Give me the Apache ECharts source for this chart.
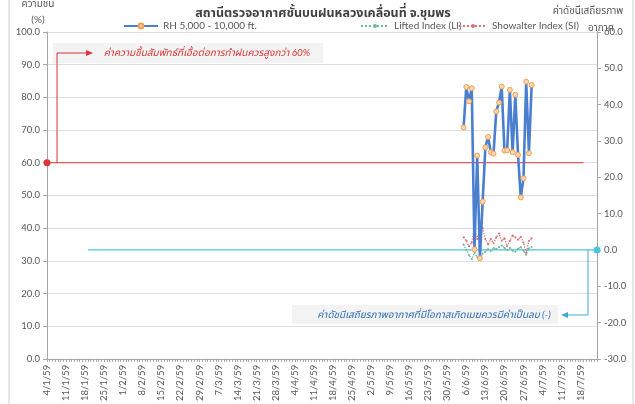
<!DOCTYPE html>
<html>
<head>
<meta charset="utf-8">
<script src="https://cdn.jsdelivr.net/npm/echarts@6/dist/echarts.min.js"></script>
<style>
html,body{margin:0;padding:0;background:#fff;}
#chart{width:635px;height:404px;}
</style>
</head>
<body>
<div id="chart"></div>
<script>
// ---- data ----
const axisStart = '2016-01-04';   // 4/1/59 (B.E. 2559)
const axisDays = 203;             // through 24/7/59
const titleText = 'สถานีตรวจอากาศชั้นบนฝนหลวงเคลื่อนที่ จ.ชุมพร';
const seriesNames = ['RH 5,000 - 10,000 ft.', 'Lifted Index (LI)', 'Showalter Index (SI)'];
const obsStart = '5/6/59';
const rhValues = [70.8, 83.2, 78.8, 82.8, 33.5, 62.2, 30.8, 48.1, 64.7, 67.9, 63.2, 62.8, 75.7,
                  78.4, 83.3, 63.7, 63.8, 82.3, 63.2, 80.8, 62.4, 49.4, 55.2, 84.8, 62.9, 83.8];
const liValues = [1.5, 0.0, -1.5, -2.5, -0.8, -2.0, -2.8, -1.0, -0.5, 0.2, -0.3, 0.5, 0.2,
                  0.8, 1.2, 0.5, 0.0, 0.6, -0.2, -0.5, 0.3, 0.8, -0.2, -1.3, 0.4, 0.8];
const siValues = [3.5, 2.5, 1.0, 2.0, 6.5, 3.0, 5.5, 6.0, 3.0, 1.5, 3.0, 1.8, 3.5,
                  4.5, 2.5, 3.2, 1.0, 2.5, 4.0, 3.5, 2.8, 3.6, 2.0, -0.8, 2.5, 3.2];
const rhThreshold = 60;
const rhThresholdRange = ['4/1/59', '19/7/59'];
const liThreshold = 0;
const liThresholdRange = ['19/1/59', '24/7/59'];
const rhNote = 'ค่าความชื้นสัมพัทธ์ที่เอื้อต่อการทำฝนควรสูงกว่า 60%';
const liNote = 'ค่าดัชนีเสถียรภาพอากาศที่มีโอกาสเกิดเมฆควรมีค่าเป็นลบ (-)';
const leftName = ['ความชื้น', '(%)'];
const rightName = ['ค่าดัชนีเสถียรภาพ', 'อากาศ'];

// ---- categories (daily) ----
const categories = [];
{
  const d0 = new Date(axisStart + 'T00:00:00Z');
  for (let i = 0; i < axisDays; i++) {
    const d = new Date(d0.getTime() + i * 86400000);
    categories.push(d.getUTCDate() + '/' + (d.getUTCMonth() + 1) + '/' + String(d.getUTCFullYear() + 543).slice(2));
  }
}
const i0 = categories.indexOf(obsStart);
const pairs = vals => vals.map((v, i) => [categories[i0 + i], v]);

const FONT = 'Lato, "Noto Sans Thai", "Noto Sans", "DejaVu Sans", sans-serif';
const GREY = '#595959';
const RED = '#dd3535';
const CYAN = '#4cc3d9';
const BLUE_TXT = '#2f6eb5';

const chart = echarts.init(document.getElementById('chart'));
const legendText = { fontSize: 10, color: GREY, fontFamily: FONT };
const option = {
  animation: false,
  textStyle: { fontFamily: FONT },
  title: {
    text: titleText, left: 318, textAlign: 'center', top: 1,
    textStyle: { fontSize: 12.5, fontWeight: 'bold', color: '#404040', fontFamily: FONT }
  },
  legend: [
    { data: [seriesNames[0]], left: 123, top: 21, padding: 0, itemWidth: 34, itemHeight: 6,
      textStyle: legendText },
    { data: [seriesNames[1]], left: 360, top: 21, padding: 0, itemWidth: 28, itemHeight: 5,
      textStyle: legendText },
    { data: [seriesNames[2]], left: 458, top: 21, padding: 0, itemWidth: 28, itemHeight: 5,
      textStyle: legendText }
  ],
  grid: { left: 47, right: 38, top: 32, bottom: 44, containLabel: false },
  xAxis: {
    type: 'category', data: categories, boundaryGap: false,
    axisLine: { lineStyle: { color: '#a6a6a6' } },
    axisTick: { show: true, interval: 0, length: 3, lineStyle: { color: '#a6a6a6' } },
    axisLabel: { interval: 6, rotate: 90, fontSize: 9.5, color: GREY, margin: 6, fontFamily: FONT },
    splitLine: { show: false }
  },
  yAxis: [
    { type: 'value', min: 0, max: 100, interval: 10,
      axisLine: { show: true, lineStyle: { color: '#a6a6a6' } },
      axisTick: { show: true, length: 4, lineStyle: { color: '#a6a6a6' } },
      axisLabel: { formatter: v => v.toFixed(1), fontSize: 9.5, color: GREY, margin: 7, fontFamily: FONT },
      splitLine: { lineStyle: { color: '#dedede' } } },
    { type: 'value', min: -30, max: 60, interval: 10, position: 'right',
      axisLine: { show: true, lineStyle: { color: '#a6a6a6' } },
      axisTick: { show: true, length: 4, lineStyle: { color: '#a6a6a6' } },
      axisLabel: { formatter: v => v.toFixed(1), fontSize: 9.5, color: GREY, margin: 7, fontFamily: FONT },
      splitLine: { show: false } }
  ],
  series: [
    { name: 'rh-threshold', type: 'line', yAxisIndex: 0, silent: true, z: 1,
      data: [
        { value: [rhThresholdRange[0], rhThreshold], symbol: 'circle', symbolSize: 7 },
        { value: [rhThresholdRange[1], rhThreshold], symbol: 'none' }
      ],
      showAllSymbol: true,
      lineStyle: { color: RED, width: 1.2 }, itemStyle: { color: RED } },
    { name: 'li-threshold', type: 'line', yAxisIndex: 1, silent: true, z: 1,
      data: [
        { value: [liThresholdRange[0], liThreshold], symbol: 'none' },
        { value: [liThresholdRange[1], liThreshold], symbol: 'circle', symbolSize: 7 }
      ],
      showAllSymbol: true,
      lineStyle: { color: CYAN, width: 1.2 }, itemStyle: { color: CYAN } },
    { name: seriesNames[1], type: 'line', yAxisIndex: 1, data: pairs(liValues), z: 2,
      symbol: 'circle', symbolSize: 2, showAllSymbol: true,
      lineStyle: { color: '#6dbb9f', width: 1.3, type: 'dotted' },
      itemStyle: { color: '#6dbb9f' } },
    { name: seriesNames[2], type: 'line', yAxisIndex: 1, data: pairs(siValues), z: 2,
      symbol: 'circle', symbolSize: 2, showAllSymbol: true,
      lineStyle: { color: '#d9737b', width: 1.3, type: 'dotted' },
      itemStyle: { color: '#d9737b' } },
    { name: seriesNames[0], type: 'line', yAxisIndex: 0, data: pairs(rhValues), z: 3,
      symbol: 'circle', symbolSize: 5, showAllSymbol: true,
      lineStyle: { color: '#4a7fd0', width: 2.6 },
      itemStyle: { color: '#fbd6b0', borderColor: '#f0a050', borderWidth: 1 } }
  ]
};
chart.setOption(option);

// annotations anchored to the axes' scales
const yRed = chart.convertToPixel({ yAxisIndex: 0 }, rhThreshold);
const yCyan = chart.convertToPixel({ yAxisIndex: 1 }, liThreshold);
const xLeft = chart.convertToPixel({ xAxisIndex: 0 }, categories[0]);
const xRight = chart.convertToPixel({ xAxisIndex: 0 }, categories[categories.length - 1]);

const nameStyle = { fontSize: 10, fill: GREY, fontFamily: FONT, align: 'center', verticalAlign: 'middle' };
chart.setOption({
  graphic: [
    { type: 'line', shape: { x1: 9, y1: 0, x2: 9, y2: 404 }, style: { stroke: '#d0d0d0', lineWidth: 1 }, silent: true },
    { type: 'line', shape: { x1: 633, y1: 0, x2: 633, y2: 404 }, style: { stroke: '#d0d0d0', lineWidth: 1 }, silent: true },
    { type: 'text', x: 38, y: 4, style: Object.assign({ text: leftName[0] }, nameStyle) },
    { type: 'text', x: 38, y: 20, style: Object.assign({ text: leftName[1] }, nameStyle) },
    { type: 'text', x: 588, y: 11, style: Object.assign({ text: rightName[0] }, nameStyle) },
    { type: 'text', x: 601, y: 28, style: Object.assign({ text: rightName[1] }, nameStyle) },
    // red note
    { type: 'rect', shape: { x: xLeft + 6, y: 43, width: 270, height: 20 }, style: { fill: '#f3f3f3' }, z: 10, silent: true },
    { type: 'polyline', shape: { points: [[xLeft + 10, yRed], [xLeft + 10, 53], [xLeft + 40, 53]] },
      style: { stroke: RED, lineWidth: 1, fill: null }, z: 11, silent: true },
    { type: 'polygon', shape: { points: [[xLeft + 39, 50], [xLeft + 46, 53], [xLeft + 39, 56]] },
      style: { fill: RED }, z: 11, silent: true },
    { type: 'text', x: xLeft + 160, y: 53, z: 12,
      style: { text: rhNote, fill: RED, fontSize: 10, fontStyle: 'italic', fontFamily: FONT, align: 'center', verticalAlign: 'middle' } },
    // cyan note
    { type: 'rect', shape: { x: 292, y: 305, width: 266, height: 19 }, style: { fill: '#f3f3f3' }, z: 10, silent: true },
    { type: 'polyline', shape: { points: [[xRight - 9, yCyan], [xRight - 9, 315], [xRight - 30, 315]] },
      style: { stroke: '#3fa9d4', lineWidth: 1, fill: null }, z: 11, silent: true },
    { type: 'polygon', shape: { points: [[xRight - 29, 312], [xRight - 36, 315], [xRight - 29, 318]] },
      style: { fill: '#3fa9d4' }, z: 11, silent: true },
    { type: 'text', x: 434, y: 314.5, z: 12,
      style: { text: liNote, fill: BLUE_TXT, fontSize: 10, fontStyle: 'italic', fontFamily: FONT, align: 'center', verticalAlign: 'middle' } }
  ]
});
</script>
</body>
</html>
